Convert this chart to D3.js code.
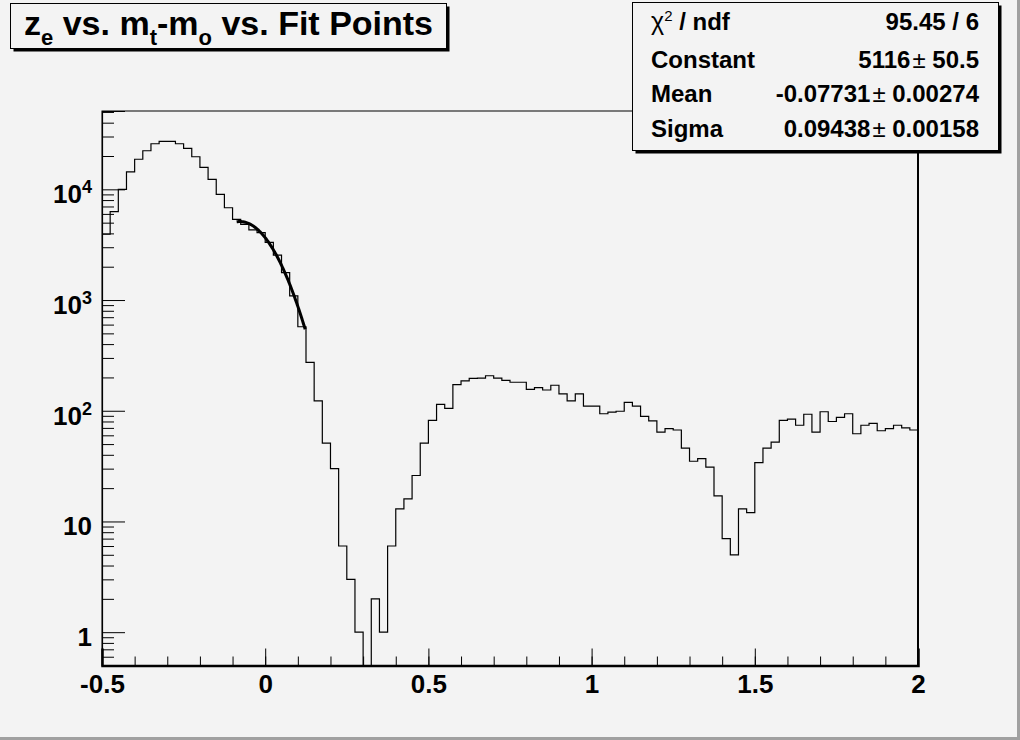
<!DOCTYPE html>
<html lang="en">
<head>
<meta charset="UTF-8">
<title>z_e vs. m_t-m_o vs. Fit Points</title>
<script src="https://d3js.org/d3.v7.min.js"></script>
<style>
  body { margin: 0; background: #f3f3f3; }
  svg { display: block; font-family: "Liberation Sans", Arial, sans-serif; font-weight: bold; }
  .hist { fill: none; stroke: #000; stroke-width: 1.2; }
  .fit { fill: none; stroke: #000; stroke-width: 3; }
</style>
</head>
<body>
<svg width="1020" height="740"></svg>
<script>
// histogram: 100 bins between -0.5 and 2
const binLow = -0.5, binHigh = 2.0;
const counts = [
  3930, 6280, 10000, 14400, 18700, 22300, 25800, 27100, 27100, 25800,
  23400, 19700, 15800, 12300, 9010, 6820, 5360, 4830, 4300, 4060,
  3320, 2550, 1770, 1090, 574, 274, 123, 51, 30, 6,
  3, 1, 0, 2, 1, 6, 13, 16, 26, 51,
  82, 114, 105, 172, 186, 196, 197, 207, 197, 188,
  181, 181, 156, 162, 154, 170, 142, 123, 142, 110,
  110, 94, 97, 99, 119, 110, 89, 81, 64, 69,
  67, 46, 35, 37, 31, 17, 7, 5, 13, 12,
  34, 46, 52, 82, 84, 74, 93, 64, 98, 80,
  87, 94, 62, 74, 77, 66, 69, 74, 70, 67
];

// gaussian fit result
const gausConst = 5116, gausMean = -0.07731, gausSigma = 0.09438;
const fitRange = [-0.0875, 0.1225];

const xTickValues = [-0.5, 0, 0.5, 1, 1.5, 2];
const xTickLabels = ["-0.5", "0", "0.5", "1", "1.5", "2"];
const yDecades = [1, 10, 100, 1000, 10000];
const yTickLabels = [["1", ""], ["10", ""], ["10", "2"], ["10", "3"], ["10", "4"]];

const statNames = ["Constant", "Mean", "Sigma"];
const statValues = [["5116", "50.5"], ["-0.07731", "0.00274"], ["0.09438", "0.00158"]];
const chi2Text = "95.45 / 6";

const svg = d3.select("svg");
const bg = "#f3f3f3";

// canvas border
svg.append("rect").attr("x", 0).attr("y", 0).attr("width", 1020).attr("height", 740).attr("fill", bg);
svg.append("rect").attr("x", 0).attr("y", 737).attr("width", 1020).attr("height", 3).attr("fill", "#a0a0a0");
svg.append("rect").attr("x", 1017).attr("y", 0).attr("width", 3).attr("height", 740).attr("fill", "#a0a0a0");

const plot = { left: 102, right: 918, top: 111, bottom: 665.5 };

const x = d3.scaleLinear().domain([binLow, binHigh]).range([plot.left, plot.right]);
const y = d3.scaleLog().domain([0.5, 51000]).range([plot.bottom, plot.top]);

svg.append("clipPath").attr("id", "clip")
  .append("rect")
  .attr("x", plot.left).attr("y", plot.top)
  .attr("width", plot.right - plot.left).attr("height", plot.bottom - plot.top);

// frame
svg.append("rect")
  .attr("x", plot.left).attr("y", plot.top)
  .attr("width", plot.right - plot.left).attr("height", plot.bottom - plot.top)
  .attr("fill", "none").attr("stroke", "#000").attr("stroke-width", 1);
svg.append("line")
  .attr("x1", plot.right).attr("x2", plot.right)
  .attr("y1", plot.top).attr("y2", plot.bottom)
  .attr("stroke", "#000").attr("stroke-width", 2);

// histogram outline
const nBins = counts.length;
const binW = (binHigh - binLow) / nBins;
const pts = counts.map((c, i) => [binLow + i * binW, c]);
pts.push([binHigh, counts[nBins - 1]]);

const stepLine = d3.line()
  .x(d => x(d[0]))
  .y(d => y(Math.max(d[1], 0.5)))
  .curve(d3.curveStepAfter);

svg.append("path")
  .datum(pts)
  .attr("class", "hist")
  .attr("clip-path", "url(#clip)")
  .attr("d", stepLine);

// fit curve
const gaus = v => gausConst * Math.exp(-0.5 * Math.pow((v - gausMean) / gausSigma, 2));
const fitPts = d3.range(fitRange[0], fitRange[1] + 1e-9, 0.002).map(v => [v, gaus(v)]);

svg.append("path")
  .datum(fitPts)
  .attr("class", "fit")
  .attr("clip-path", "url(#clip)")
  .attr("d", d3.line().x(d => x(d[0])).y(d => y(d[1])));

// x axis (ticks point into the frame)
const xMinor = d3.range(-5, 21).map(i => i / 10);
svg.append("g")
  .attr("transform", `translate(0,${plot.bottom})`)
  .call(d3.axisBottom(x).tickValues(xMinor).tickSize(-9).tickFormat(""))
  .call(g => g.select(".domain").remove());

const xAxis = svg.append("g")
  .attr("transform", `translate(0,${plot.bottom})`)
  .call(d3.axisBottom(x).tickValues(xTickValues).tickSize(-17).tickPadding(9)
    .tickFormat((d, i) => xTickLabels[i]));
xAxis.select(".domain").attr("stroke-width", 2.5);
xAxis.selectAll("text")
  .attr("font-family", "'Liberation Sans', Arial, sans-serif")
  .attr("font-weight", "bold")
  .attr("font-size", 26)
  .attr("fill", "#000");

// y axis (log)
const yMinor = [];
[0.1, 1, 10, 100, 1000, 10000].forEach(dec => {
  for (let k = 2; k <= 9; k++) {
    const v = dec * k;
    if (v > 0.5 && v < 51000) yMinor.push(v);
  }
});
svg.append("g")
  .attr("transform", `translate(${plot.left},0)`)
  .call(d3.axisLeft(y).tickValues(yMinor).tickSize(-12).tickFormat(""))
  .call(g => g.select(".domain").remove());

const yAxis = svg.append("g")
  .attr("transform", `translate(${plot.left},0)`)
  .call(d3.axisLeft(y).tickValues(yDecades).tickSize(-23).tickFormat(""));
yAxis.select(".domain").attr("stroke-width", 1.2);

const yLab = svg.append("g")
  .attr("font-size", 26)
  .attr("text-anchor", "end");
yDecades.forEach((d, i) => {
  const t = yLab.append("text")
    .attr("x", 92)
    .attr("y", y(d) + 14);
  t.append("tspan").text(yTickLabels[i][0]);
  if (yTickLabels[i][1]) {
    t.append("tspan").attr("dy", -10).attr("font-size", 18).text(yTickLabels[i][1]);
  }
});

// stats box
function box(x0, y0, w, h) {
  svg.append("rect").attr("x", x0 + 3).attr("y", y0 + 3).attr("width", w).attr("height", h).attr("fill", "#000");
  svg.append("rect").attr("x", x0).attr("y", y0).attr("width", w).attr("height", h)
    .attr("fill", bg).attr("stroke", "#000").attr("stroke-width", 1);
}

box(632.5, 2.5, 366, 148);
const stats = svg.append("g").attr("font-size", 24);
const chiRow = stats.append("text").attr("x", 651).attr("y", 30);
chiRow.append("tspan").attr("font-weight", "normal").attr("font-size", 25).text("χ");
chiRow.append("tspan").attr("dy", -9).attr("font-size", 15).attr("font-weight", "normal").text("2");
chiRow.append("tspan").attr("dy", 9).text(" / ndf");
stats.append("text").attr("x", 979).attr("y", 30).attr("text-anchor", "end").text(chi2Text);

const rowY = [68, 102, 137];
statNames.forEach((name, i) => {
  stats.append("text").attr("x", 651).attr("y", rowY[i]).text(name);
  const t = stats.append("text").attr("x", 979).attr("y", rowY[i]).attr("text-anchor", "end");
  t.append("tspan").text(statValues[i][0]);
  t.append("tspan").attr("font-weight", "normal").attr("dx", 2).text("\u00b1 ");
  t.append("tspan").text(statValues[i][1]);
});

// title box
box(10.5, 3.5, 436, 45);
const title = svg.append("text").attr("x", 24).attr("y", 35).attr("font-size", 34);
title.append("tspan").text("z");
title.append("tspan").attr("dy", 10).attr("font-size", 22).text("e");
title.append("tspan").attr("dy", -10).text(" vs. m");
title.append("tspan").attr("dy", 10).attr("font-size", 22).text("t");
title.append("tspan").attr("dy", -10).text("-m");
title.append("tspan").attr("dy", 10).attr("font-size", 22).text("o");
title.append("tspan").attr("dy", -10).text(" vs. Fit Points");
</script>
</body>
</html>
